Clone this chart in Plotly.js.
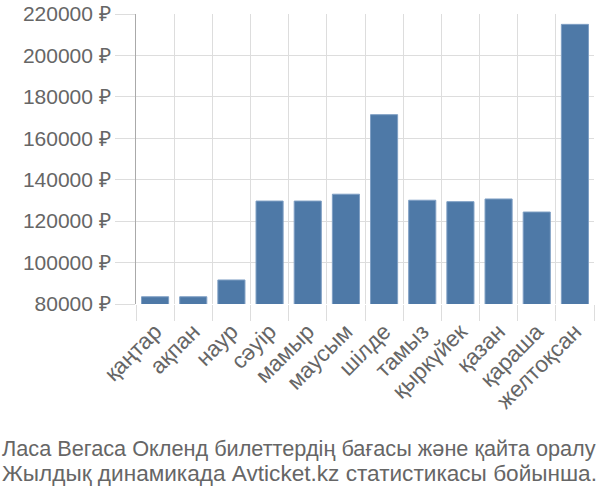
<!DOCTYPE html>
<html><head><meta charset="utf-8">
<script src="https://cdn.plot.ly/plotly-3.0.1.min.js"></script>
<style>body{margin:0}#c{width:600px;height:500px}</style>
</head><body><div id="c"></div>
<script>
const months = ["қаңтар","ақпан","наур","сәуір","мамыр","маусым","шілде","тамыз","қыркүйек","қазан","қараша","желтоқсан"];
const prices = [83500,83500,91600,129700,129700,133000,171400,130100,129400,130700,124400,215000];
const yTicks = [80000,100000,120000,140000,160000,180000,200000,220000];
const yTickText = yTicks.map(v => v + " ₽");
const titleLines = ["Ласа Вегаса Окленд билеттердің бағасы және қайта оралу","Жылдық динамикада Avticket.kz статистикасы бойынша."];
const titleSizes = [21.7, 22.6];

const font = "Liberation Sans, Arial, sans-serif";
Plotly.newPlot("c", [{
  type: "bar", x: months, y: prices,
  marker: {color: "#4e79a7", line: {color: "#7f9fc4", width: 1}},
  hoverinfo: "none"
}], {
  width: 600, height: 500,
  margin: {l: 136, r: 6, t: 14, b: 196},
  bargap: 0.29,
  paper_bgcolor: "#fff", plot_bgcolor: "#fff",
  showlegend: false,
  font: {family: font, color: "#666"},
  xaxis: {
    tickangle: -45, tickfont: {size: 22.5, color: "#666", family: font},
    tickson: "boundaries", ticks: "outside", ticklen: 16, tickcolor: "#ddd",
    ticklabelstandoff: 9,
    showgrid: true, gridcolor: "#ddd", gridwidth: 1,
    showline: false, zeroline: false, fixedrange: true
  },
  yaxis: {
    range: [80000, 220000], tickvals: yTicks, ticktext: yTickText,
    tickfont: {size: 21, color: "#666", family: font},
    ticks: "outside", ticklen: 20, tickcolor: "#ddd",
    showgrid: true, gridcolor: "#ddd", gridwidth: 1,
    showline: true, linecolor: "#aaa", linewidth: 1,
    zeroline: false, fixedrange: true
  },
  annotations: titleLines.map((t, i) => ({
    text: t, xref: "paper", yref: "paper", x: -136/458, y: -(448 + i*25 - 304)/290,
    xanchor: "left", yanchor: "middle", showarrow: false,
    font: {size: titleSizes[i], color: "#666", family: font}
  }))
}, {staticPlot: true});
</script></body></html>
